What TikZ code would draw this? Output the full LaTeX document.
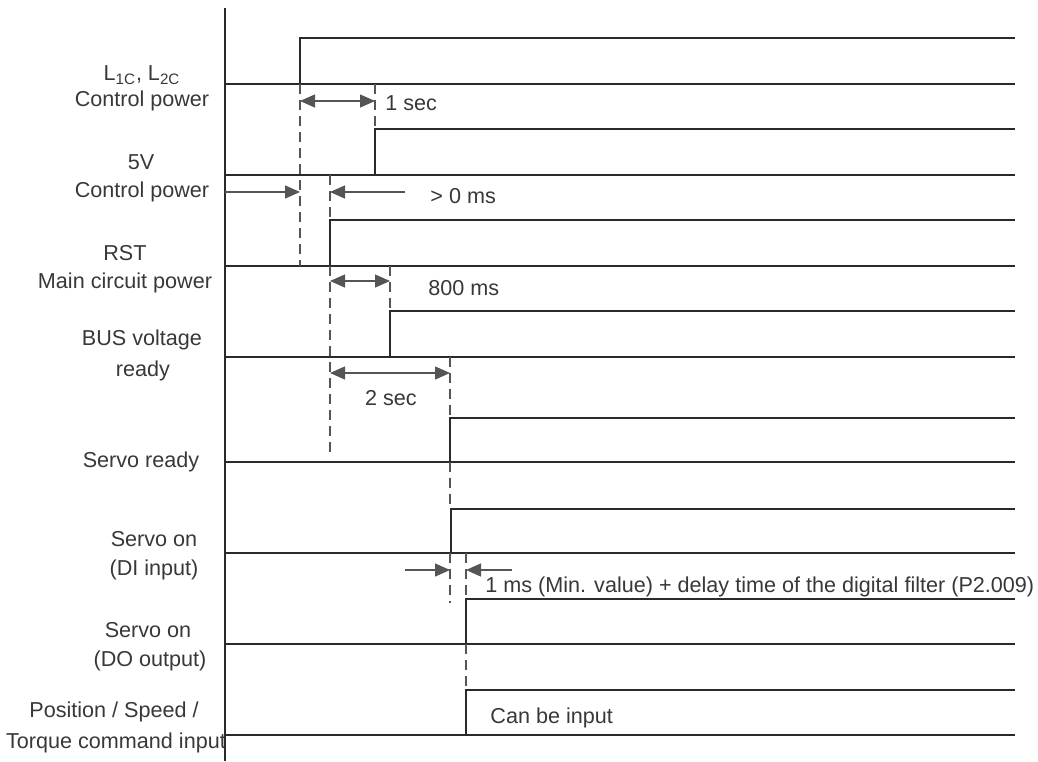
\documentclass[tikz,border=0pt]{standalone}
\usepackage{fontspec}
\setmainfont{Liberation Sans}
\usetikzlibrary{arrows.meta}
\definecolor{sigc}{HTML}{2A2A2A}
\definecolor{dimc}{HTML}{555555}
\definecolor{txtc}{HTML}{383838}
\begin{document}
\begin{tikzpicture}[x=0.5pt,y=-0.5pt,
  wave/.style={draw=sigc,line width=1pt,line join=miter},
  axisline/.style={draw=sigc,line width=1pt},
  guide/.style={draw=dimc,line width=0.65pt,dash pattern=on 5pt off 3pt},
  dimarrow/.style={draw=dimc,line width=0.65pt,-{Triangle[length=7.5pt,width=6.5pt]},fill=dimc},
  dimboth/.style={draw=dimc,line width=0.65pt,{Triangle[length=7.5pt,width=6.5pt]}-{Triangle[length=7.5pt,width=6.5pt]},fill=dimc},
  lbl/.style={text=txtc,font=\fontsize{10.8}{12}\selectfont,inner sep=0pt,anchor=center},
  note/.style={text=txtc,font=\fontsize{10.8}{12}\selectfont,inner sep=0pt,anchor=west}]
\useasboundingbox (0,0) rectangle (1038,761);
% axis
\coordinate (axtop) at (225,8);
\coordinate (axbot) at (225,761);
\draw[axisline] (axtop) -- (axbot);
% rise points (low) and high levels
\coordinate (a0) at (225,84);  \coordinate (a1) at (300,84);  \coordinate (ae) at (1015,84);  \coordinate (ah) at (1015,38);
\coordinate (b0) at (225,175); \coordinate (b1) at (375,175); \coordinate (be) at (1015,175); \coordinate (bh) at (1015,129);
\coordinate (c0) at (225,266); \coordinate (c1) at (330,266); \coordinate (ce) at (1015,266); \coordinate (ch) at (1015,220);
\coordinate (d0) at (225,357); \coordinate (d1) at (390,357); \coordinate (de) at (1015,357); \coordinate (dh) at (1015,311);
\coordinate (e0) at (225,462); \coordinate (e1) at (450,462); \coordinate (ee) at (1015,462); \coordinate (eh) at (1015,418);
\coordinate (f0) at (225,553); \coordinate (f1) at (451,553); \coordinate (fe) at (1015,553); \coordinate (fh) at (1015,509);
\coordinate (g0) at (225,644); \coordinate (g1) at (466,644); \coordinate (ge) at (1015,644); \coordinate (gh) at (1015,599);
\coordinate (h0) at (225,735); \coordinate (h1) at (466,735); \coordinate (he) at (1015,735); \coordinate (hh) at (1015,690);
% waveforms
\foreach \s in {a,b,c,d,e,f,g,h}{
  \draw[wave] (\s0) -- (\s e);
  \draw[wave] (\s1) |- (\s h);
}
% dashed guides
\draw[guide] (300,84) -- (300,266);
\draw[guide] (375,84) -- (375,129);
\draw[guide] (330,175) -- (330,220);
\draw[guide] (330,266) -- (330,455);
\draw[guide] (390,266) -- (390,311);
\draw[guide] (450,357) -- (450,418);
\draw[guide] (450,462) -- (450,509);
\draw[guide] (450,553) -- (450,603);
\draw[guide] (466,553) -- (466,599);
\draw[guide] (466,644) -- (466,690);
% dimension arrows
\coordinate (p1l) at (300,101); \coordinate (p1r) at (375,101);
\draw[dimboth] (p1l) -- (p1r);
\coordinate (p2a) at (225,192); \coordinate (p2b) at (300,192);
\coordinate (p2c) at (405,192); \coordinate (p2d) at (330,192);
\draw[dimarrow] (p2a) -- (p2b);
\draw[dimarrow] (p2c) -- (p2d);
\coordinate (p3l) at (330,281); \coordinate (p3r) at (390,281);
\draw[dimboth] (p3l) -- (p3r);
\coordinate (p4l) at (330,373); \coordinate (p4r) at (450,373);
\draw[dimboth] (p4l) -- (p4r);
\coordinate (p5a) at (405,570); \coordinate (p5b) at (450,570);
\coordinate (p5c) at (512,570); \coordinate (p5d) at (466,570);
\draw[dimarrow] (p5a) -- (p5b);
\draw[dimarrow] (p5c) -- (p5d);
% timing notes
\node[note] (t1) at (385,103) {1 sec};
\node[note] (t2) at (430,196) {> 0 ms};
\node[note] (t3) at (428,288) {800 ms};
\node[lbl]  (t4) at (391,398) {2 sec};
\node[note] (t5) at (485,587) {1 ms (Min. value) + delay time of the digital filter (P2.009)};
\node[note] (t6) at (490,718) {Can be input};
% signal labels
\node[lbl] (l1a) at (142,75) {L\textsubscript{1C}, L\textsubscript{2C}};
\node[lbl] (l1b) at (142,101) {Control power};
\node[lbl] (l2a) at (141,162) {5V};
\node[lbl] (l2b) at (142,192) {Control power};
\node[lbl] (l3a) at (125,253) {RST};
\node[lbl] (l3b) at (125,283) {Main circuit power};
\node[lbl] (l4a) at (142,340) {BUS voltage};
\node[lbl] (l4b) at (143,371) {ready};
\node[lbl] (l5a) at (141,462) {Servo ready};
\node[lbl] (l6a) at (154,539) {Servo on};
\node[lbl] (l6b) at (154,570) {(DI input)};
\node[lbl] (l7a) at (148,630) {Servo on};
\node[lbl] (l7b) at (150,661) {(DO output)};
\node[lbl] (l8a) at (114,712) {Position / Speed /};
\node[lbl] (l8b) at (116,743) {Torque command input};
\end{tikzpicture}
\end{document}
